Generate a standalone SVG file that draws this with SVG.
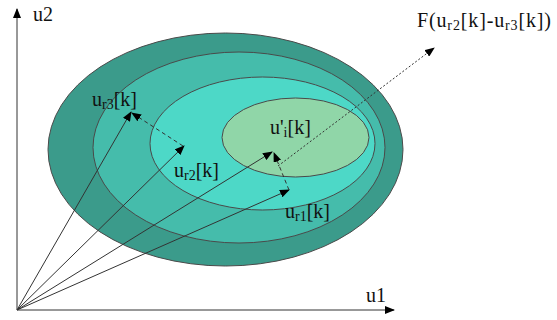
<svg xmlns="http://www.w3.org/2000/svg" width="557" height="320" viewBox="0 0 557 320">
<style>
.reg{stroke:#4a4a4a;stroke-width:1}
.vec{stroke:#333;stroke-width:1;fill:none}
.dash{stroke:#333;stroke-width:1;fill:none;stroke-dasharray:4,3}
.dot{stroke:#333;stroke-width:1;fill:none;stroke-dasharray:2,2}
.axis{stroke:#333;stroke-width:1;fill:none}
text{font-family:"Liberation Serif","Times New Roman",serif;font-size:20px;fill:#111}
.sub{font-size:14px}
</style>
<defs>
<marker id="ah" markerUnits="userSpaceOnUse" markerWidth="10" markerHeight="8" refX="9" refY="4" orient="auto">
<path d="M0,0 L10,4 L0,8 z" fill="#000"/>
</marker>
</defs>
<rect width="557" height="320" fill="#fff"/>
<g id="regions">
<g id="region-outer"><ellipse class="reg" cx="225.5" cy="149.5" rx="177.5" ry="116.5" fill="#3B9B8B"/></g>
<g id="region-2"><ellipse class="reg" cx="239" cy="147.5" rx="146" ry="95.5" fill="#45BCAB"/></g>
<g id="region-3"><ellipse class="reg" cx="262.5" cy="143.5" rx="112.5" ry="66.5" fill="#4DD8C7"/></g>
<g id="region-inner"><ellipse class="reg" cx="295.5" cy="137.5" rx="73.5" ry="39.5" fill="#90D6A8"/></g>
</g>
<g id="connectors">
<line class="axis" x1="17" y1="310" x2="17" y2="9" marker-end="url(#ah)"/>
<line class="axis" x1="17" y1="310" x2="394" y2="310" marker-end="url(#ah)"/>
<line class="vec" x1="17" y1="310" x2="131" y2="112" marker-end="url(#ah)"/>
<line class="vec" x1="17" y1="310" x2="184" y2="146" marker-end="url(#ah)"/>
<line class="vec" x1="17" y1="310" x2="272" y2="152" marker-end="url(#ah)"/>
<line class="vec" x1="17" y1="310" x2="289" y2="190" marker-end="url(#ah)"/>
<line class="dash" x1="183" y1="146" x2="132" y2="113" marker-end="url(#ah)"/>
<line class="dash" x1="289" y1="190" x2="274" y2="153" marker-end="url(#ah)"/>
<line class="dot" x1="278" y1="166" x2="434" y2="48" marker-end="url(#ah)"/>
</g>
<g id="labels">
<text x="33" y="21">u2</text>
<text x="366" y="302">u1</text>
<text x="92" y="106">u<tspan class="sub" dy="3">r3</tspan><tspan dy="-3">[k]</tspan></text>
<text x="174" y="177">u<tspan class="sub" dy="3">r2</tspan><tspan dy="-3">[k]</tspan></text>
<text x="270" y="134">u'<tspan class="sub" dy="3">i</tspan><tspan dy="-3">[k]</tspan></text>
<text x="285" y="218">u<tspan class="sub" dy="3">r1</tspan><tspan dy="-3">[k]</tspan></text>
<text x="417" y="27" textLength="134" lengthAdjust="spacing">F(u<tspan class="sub" dy="3">r2</tspan><tspan dy="-3">[k]-u</tspan><tspan class="sub" dy="3">r3</tspan><tspan dy="-3">[k])</tspan></text>
</g>
</svg>
